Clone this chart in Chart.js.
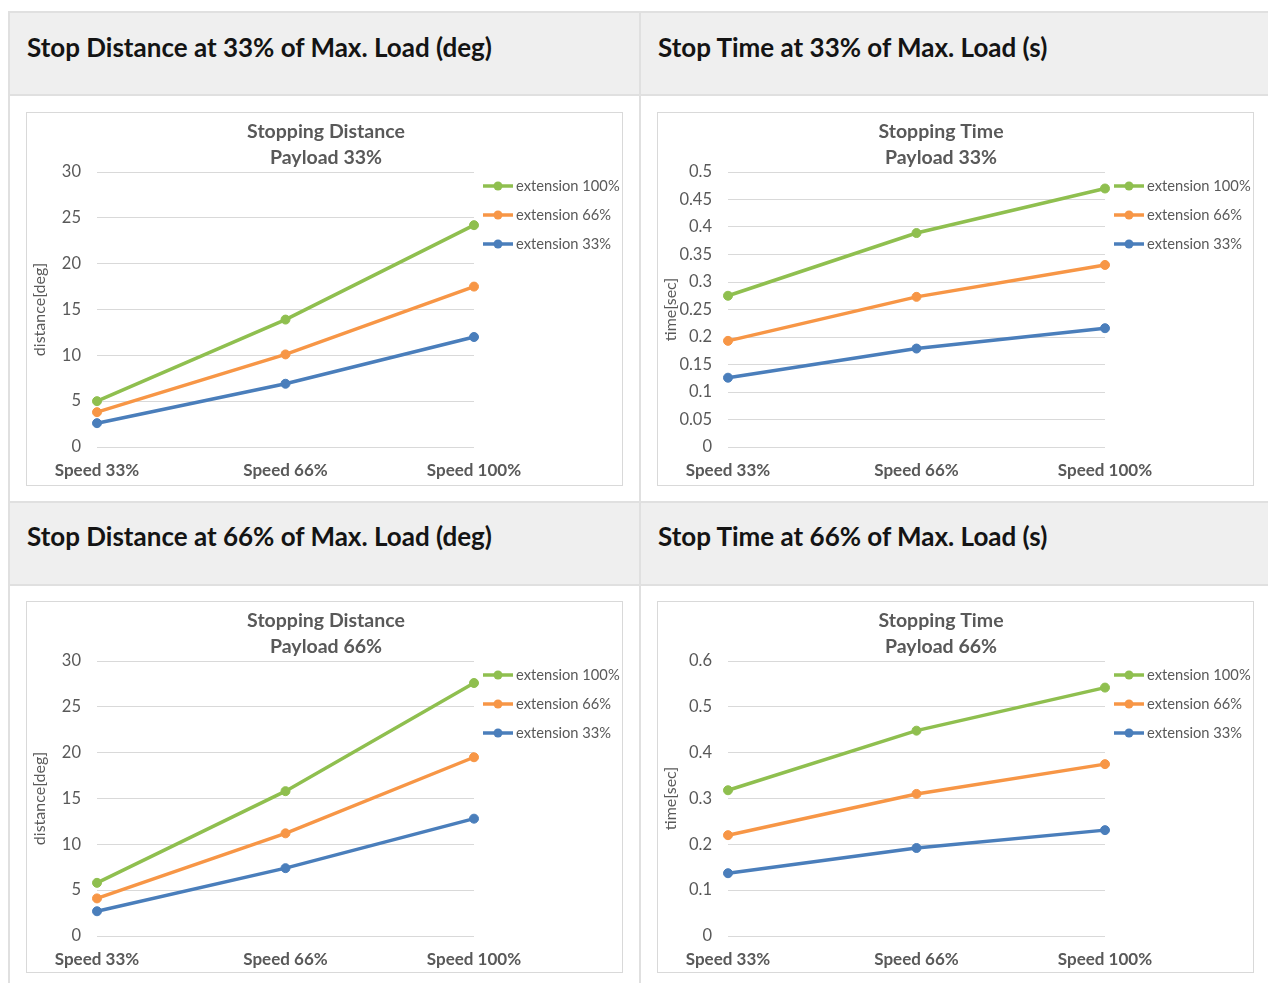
<!DOCTYPE html>
<html><head><meta charset="utf-8">
<script src="https://cdn.jsdelivr.net/npm/chart.js@4.4.0/dist/chart.umd.min.js"></script>
<style>
html,body{margin:0;padding:0;background:#fff;}
body{width:1268px;height:983px;overflow:hidden;position:relative;font-family:Lato,"Open Sans",sans-serif;}
.hdr{position:absolute;background:#efefef;left:9px;width:1259px;}
.hl{position:absolute;background:#e0e0e0;height:2px;left:8px;width:1260px;}
.vl{position:absolute;background:#e0e0e0;width:2px;top:11px;height:972px;}
.htxt{position:absolute;font-weight:700;color:#141414;white-space:nowrap;font-size:26px;line-height:26px;}
.box{position:absolute;border:1px solid #d9d9d9;background:#fff;}
.box canvas{display:block;}
</style></head><body>
<div class="hdr" style="top:12px;height:83px"></div>
<div class="hdr" style="top:502px;height:83px"></div>
<div class="hl" style="top:11px"></div>
<div class="hl" style="top:94px"></div>
<div class="hl" style="top:501px"></div>
<div class="hl" style="top:584px"></div>
<div class="vl" style="left:8px"></div>
<div class="vl" style="left:639px"></div>
<div class="htxt" id="h0" style="left:27px;top:34px"></div>
<div class="htxt" id="h1" style="left:658px;top:34px"></div>
<div class="htxt" id="h2" style="left:27px;top:523px"></div>
<div class="htxt" id="h3" style="left:658px;top:523px"></div>
<div class="box" style="left:26px;top:112px"><canvas id="c0" width="595" height="372"></canvas></div>
<div class="box" style="left:657px;top:112px"><canvas id="c1" width="595" height="372"></canvas></div>
<div class="box" style="left:26px;top:601px"><canvas id="c2" width="595" height="370"></canvas></div>
<div class="box" style="left:657px;top:601px"><canvas id="c3" width="595" height="370"></canvas></div>
<script>
// ---------- data ----------
const categories = ['Speed 33%', 'Speed 66%', 'Speed 100%'];
const seriesLabels = ['extension 100%', 'extension 66%', 'extension 33%'];

const distP33_ext100 = [5.0, 13.9, 24.2];
const distP33_ext66  = [3.8, 10.1, 17.5];
const distP33_ext33  = [2.6, 6.9, 12.0];

const timeP33_ext100 = [0.275, 0.389, 0.470];
const timeP33_ext66  = [0.193, 0.273, 0.331];
const timeP33_ext33  = [0.126, 0.179, 0.216];

const distP66_ext100 = [5.8, 15.8, 27.6];
const distP66_ext66  = [4.1, 11.2, 19.5];
const distP66_ext33  = [2.7, 7.4, 12.8];

const timeP66_ext100 = [0.318, 0.448, 0.542];
const timeP66_ext66  = [0.220, 0.310, 0.375];
const timeP66_ext33  = [0.137, 0.192, 0.231];

const headerTexts = [
  'Stop Distance at 33% of Max. Load (deg)',
  'Stop Time at 33% of Max. Load (s)',
  'Stop Distance at 66% of Max. Load (deg)',
  'Stop Time at 66% of Max. Load (s)'
];
const chartTitles = [
  ['Stopping Distance', 'Payload 33%'],
  ['Stopping Time', 'Payload 33%'],
  ['Stopping Distance', 'Payload 66%'],
  ['Stopping Time', 'Payload 66%']
];
const yTitles = ['distance[deg]', 'time[sec]', 'distance[deg]', 'time[sec]'];
const yMaxes = [30, 0.5, 30, 0.6];
const ySteps = [5, 0.05, 5, 0.1];
const seriesSets = [
  [distP33_ext100, distP33_ext66, distP33_ext33],
  [timeP33_ext100, timeP33_ext66, timeP33_ext33],
  [distP66_ext100, distP66_ext66, distP66_ext33],
  [timeP66_ext100, timeP66_ext66, timeP66_ext33]
];

// ---------- style ----------
const seriesColors = ['#8fbf4f', '#f79646', '#4a7ebb'];
const titleCenters = [299, 283, 299, 283];
const TXT = '#595959';
const FONT = 'Lato, "Open Sans", sans-serif';

headerTexts.forEach((t, i) => { document.getElementById('h' + i).textContent = t; });

function makeDecor(lines, cx) {
  return {
    id: 'decor',
    afterDraw(chart) {
      const ctx = chart.ctx;
      ctx.save();
      ctx.fillStyle = TXT;
      ctx.font = 'bold 19.5px ' + FONT;
      ctx.textAlign = 'center';
      ctx.textBaseline = 'middle';
      lines.forEach((t, i) => ctx.fillText(t, cx, 19 + i * 26));
      chart.data.datasets.forEach((ds, i) => {
        const y = 73 + i * 29;
        ctx.strokeStyle = ds.borderColor;
        ctx.lineWidth = 3.5;
        ctx.beginPath(); ctx.moveTo(456, y); ctx.lineTo(486, y); ctx.stroke();
        ctx.fillStyle = ds.borderColor;
        ctx.beginPath(); ctx.arc(471, y, 4.5, 0, Math.PI * 2); ctx.fill();
        ctx.fillStyle = TXT;
        ctx.font = '14.7px ' + FONT;
        ctx.textAlign = 'left';
        ctx.fillText(ds.label, 489, y);
      });
      ctx.restore();
    }
  };
}

for (let k = 0; k < 4; k++) {
  const cv = document.getElementById('c' + k);
  const H = cv.height;
  new Chart(cv, {
    type: 'line',
    data: {
      labels: categories,
      datasets: seriesSets[k].map((vals, i) => ({
        label: seriesLabels[i],
        data: vals,
        borderColor: seriesColors[i],
        backgroundColor: seriesColors[i],
        pointBackgroundColor: seriesColors[i],
        pointBorderColor: seriesColors[i],
        borderWidth: 3.5,
        pointRadius: 4.5,
        pointBorderWidth: 1,
        tension: 0,
        clip: false
      }))
    },
    options: {
      responsive: false,
      animation: false,
      devicePixelRatio: 1,
      layout: { padding: { left: 0, top: 59, right: 148, bottom: 0 } },
      plugins: { legend: { display: false }, title: { display: false }, tooltip: { enabled: false } },
      scales: {
        x: {
          type: 'category',
          offset: false,
          grid: { display: false, drawTicks: false },
          border: { display: false },
          ticks: { color: TXT, font: { family: FONT, size: 17, weight: 'bold' }, padding: 13, maxRotation: 0, autoSkip: false },
          afterFit(s) { s.height = H - 334; }
        },
        y: {
          min: 0,
          max: yMaxes[k],
          grid: { color: '#d9d9d9', drawTicks: false, lineWidth: 1 },
          border: { display: false },
          ticks: { stepSize: ySteps[k], color: TXT, font: { family: FONT, size: 16.5 }, padding: 16,
                   callback: v => String(+Number(v).toFixed(2)) },
          title: { display: true, text: yTitles[k], color: TXT, font: { family: FONT, size: 16 }, padding: { top: 3, bottom: 0 } },
          afterFit(s) { s.width = 70; }
        }
      }
    },
    plugins: [makeDecor(chartTitles[k], titleCenters[k])]
  });
}
</script>
</body></html>
